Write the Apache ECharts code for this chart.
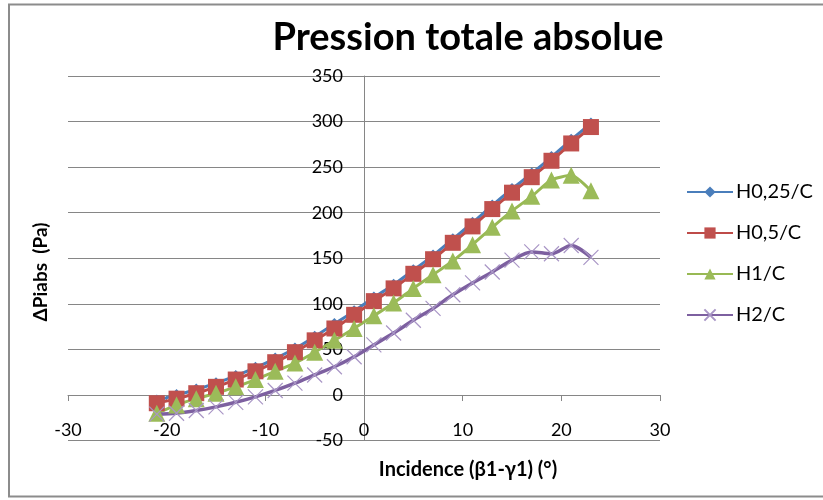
<!DOCTYPE html>
<html>
<head>
<meta charset="utf-8">
<script src="https://cdn.jsdelivr.net/npm/echarts@6/dist/echarts.min.js"></script>
<style>html,body{margin:0;padding:0;background:#fff;}#c{width:823px;height:500px;}</style>
</head>
<body>
<div id="c"></div>
<script>
var incidence = [-21,-19,-17,-15,-13,-11,-9,-7,-5,-3,-1,1,3,5,7,9,11,13,15,17,19,21,23];
var h025 = [-6,0,6,13,21,30,40,51,64,78,92,107,121,137,153,171,189,208,226,243,261,280,298];
var h05  = [-9,-4,2,9,17,26,36,47,60,73,88,103,117,133,149,167,185,204,222,239,257,276,294];
var h1   = [-20,-11,-4,2,9,17,26,35,47,60,73,87,101,117,132,147,165,184,202,218,236,241,224];
var h2   = [-21,-20,-17,-13,-8,-2,5,13,22,31,42,55,68,82,95,110,123,135,148,157,155,164,151];
var seriesNames = ['H0,25/C','H0,5/C','H1/C','H2/C'];
var xTicks = [-30,-20,-10,0,10,20,30];
var yTicks = [-50,0,50,100,150,200,250,300,350];

function pairs(vals){ return incidence.map(function(x,i){ return [x, vals[i]]; }); }

var FONT = 'Lato, "Open Sans", sans-serif';
var gridColor = '#868686';
var chart = echarts.init(document.getElementById('c'), null, {renderer:'canvas'});
chart.setOption({
  animation: false,
  backgroundColor: '#ffffff',
  title: {
    text: 'Pression totale absolue',
    left: 463, top: 14, textAlign: 'center',
    textStyle: {fontFamily: FONT, fontWeight: 'bold', fontSize: 38, color: '#000'}
  },
  graphic: [
    {type:'rect', shape:{x:9, y:4.5, width:830, height:492}, style:{fill:'none', stroke:'#8c8c8c', lineWidth:2}, silent:true, z:-1},
    {type:'text', x:41, y:272, rotation:Math.PI/2, style:{text:'\u0394Piabs  (Pa)', font:'bold 19px '+FONT, fill:'#000', textAlign:'center', textVerticalAlign:'middle'}},
    {type:'text', x:468, y:470, style:{text:'Incidence (\u03b21-\u03b31) (\u00b0)', font:'bold 20px '+FONT, fill:'#000', textAlign:'center', textVerticalAlign:'middle'}}
  ],
  legend: {
    orient: 'vertical', left: 686, top: 182, padding: 0,
    itemWidth: 46, itemHeight: 14, itemGap: 21,
    textStyle: {fontFamily: FONT, fontSize: 20, lineHeight: 20, color: '#000', padding:[0,0,0,-2]},
    data: seriesNames
  },
  grid: {left: 68, right: 163, top: 76, bottom: 59.4, containLabel: false},
  xAxis: [
    {type:'value', min:-30, max:30, interval:10, position:'bottom',
     axisLine:{onZero:true, lineStyle:{color:gridColor, width:1}},
     axisTick:{show:true, length:6, lineStyle:{color:gridColor}},
     axisLabel:{show:false}, splitLine:{show:false}},
    {type:'value', min:-30, max:30, interval:10, position:'bottom',
     axisLine:{show:false, onZero:false}, axisTick:{show:false},
     axisLabel:{show:true, margin:-19, fontFamily:FONT, fontSize:18, color:'#000',
       formatter:function(v){ return xTicks.indexOf(v) >= 0 ? String(v) : ''; }},
     splitLine:{show:false}}
  ],
  yAxis: {
    type:'value', min:-50, max:350, interval:50, position:'left', offset:-296,
    axisLine:{show:true, onZero:false, lineStyle:{color:gridColor, width:1}},
    axisTick:{show:false},
    axisLabel:{margin:21, fontFamily:FONT, fontSize:18, color:'#000',
      formatter:function(v){ return yTicks.indexOf(v) >= 0 ? String(v) : ''; }},
    splitLine:{show:true, lineStyle:{color:gridColor, width:1}}
  },
  series: [
    {name:seriesNames[0], type:'line', data:pairs(h025), smooth:0.2,
     symbol:'diamond', symbolSize:12,
     lineStyle:{color:'#4A7EBB', width:3}, itemStyle:{color:'#4A7EBB'}},
    {name:seriesNames[1], type:'line', data:pairs(h05), smooth:0.2,
     symbol:'rect', symbolSize:16,
     lineStyle:{color:'#BE4B48', width:3}, itemStyle:{color:'#C0504D'}},
    {name:seriesNames[2], type:'line', data:pairs(h1), smooth:0.2,
     symbol:'triangle', symbolSize:17,
     lineStyle:{color:'#98B954', width:3}, itemStyle:{color:'#9BBB59'}},
    {name:seriesNames[3], type:'line', data:pairs(h2), smooth:0.3,
     symbol:'path://M0 0L10 10M10 0L0 10', symbolSize:15, symbolKeepAspect:true,
     lineStyle:{color:'#7D60A0', width:3.5},
     itemStyle:{color:'rgba(0,0,0,0)', borderColor:'#A996C6', borderWidth:1.2}}
  ]
});
</script>
</body>
</html>
